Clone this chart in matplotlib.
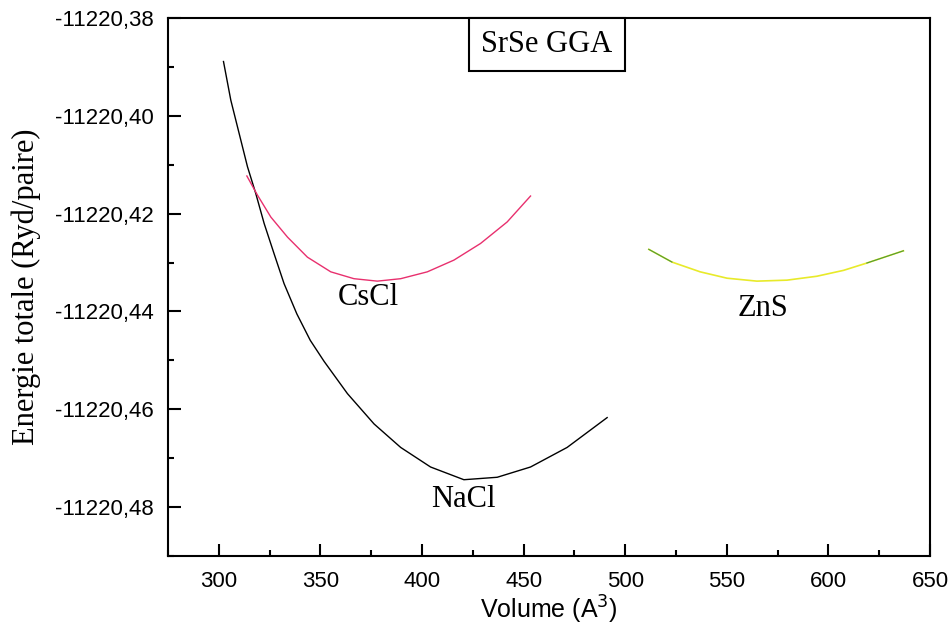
import numpy as np
import matplotlib
matplotlib.use("Agg")
import matplotlib.pyplot as plt
from matplotlib.ticker import MultipleLocator, FuncFormatter

# Valeurs (volume, energie - E0)
E0 = -11220.0

nacl_v = [302.3, 305.9, 310.0, 314.1, 318.2, 322.3, 327.2, 332.1, 338.4, 345.0,
          351.8, 363.3, 376.4, 389.5, 404.2, 420.6, 437.0, 453.4, 471.4, 491.1]
nacl_e = [-0.3889, -0.3968, -0.4036, -0.4104, -0.4159, -0.4220, -0.4282, -0.4343, -0.4405, -0.4459,
          -0.4502, -0.4568, -0.4630, -0.4678, -0.4718, -0.4744, -0.4739, -0.4718, -0.4678, -0.4617]

cscl_v = [313.8, 319.0, 325.6, 333.8, 343.6, 355.1, 366.5, 378.0, 389.5, 402.6,
          415.7, 428.8, 441.9, 453.4]
cscl_e = [-0.4123, -0.4162, -0.4207, -0.4248, -0.4289, -0.4319, -0.4333, -0.4338, -0.4333, -0.4319,
          -0.4295, -0.4261, -0.4217, -0.4164]

zns_v = [511.6, 523.0, 536.9, 550.1, 564.8, 579.6, 594.3, 607.4, 618.9, 636.9]
zns_e = [-0.4273, -0.4299, -0.4319, -0.4332, -0.4338, -0.4336, -0.4328, -0.4316, -0.4301, -0.4276]

nacl_e = [E0 + e for e in nacl_e]
cscl_e = [E0 + e for e in cscl_e]
zns_e = [E0 + e for e in zns_e]

serif = ["Liberation Serif", "DejaVu Serif"]
sans = ["Liberation Sans", "DejaVu Sans"]

fig = plt.figure(figsize=(9.53, 6.38), dpi=100)
ax = fig.add_axes([0.1763, 0.1285, 0.7996, 0.8433])

ax.plot(nacl_v, nacl_e, color="black", lw=1.0)
ax.plot(cscl_v, cscl_e, color="#e8306e", lw=1.0)
ax.plot(zns_v, zns_e, color="#e8ea2a", lw=1.2)
# bouts verts de la courbe ZnS
ax.plot(zns_v[:2], zns_e[:2], color="#4f9a3a", lw=0.8)
ax.plot(zns_v[-2:], zns_e[-2:], color="#4f9a3a", lw=0.8)

ax.text(373.7, E0 - 0.4371, "CsCl", family=serif, fontsize=22, ha="center", va="center")
ax.text(420.4, E0 - 0.4785, "NaCl", family=serif, fontsize=22, ha="center", va="center")
ax.text(568.0, E0 - 0.4394, "ZnS", family=serif, fontsize=22, ha="center", va="center")

ax.text(0.4975, 0.951, "SrSe GGA", transform=ax.transAxes, family=serif, fontsize=22,
        ha="center", va="center",
        bbox=dict(boxstyle="square,pad=0.4", facecolor="white", edgecolor="black", lw=1.5))

ax.set_xlim(275, 650)
ax.set_ylim(E0 - 0.49, E0 - 0.38)

ax.xaxis.set_major_locator(MultipleLocator(50))
ax.xaxis.set_minor_locator(MultipleLocator(25))
ax.yaxis.set_major_locator(MultipleLocator(0.02))
ax.yaxis.set_minor_locator(MultipleLocator(0.01))
ax.yaxis.set_major_formatter(FuncFormatter(lambda v, p: f"{v:.2f}".replace(".", ",")))

ax.tick_params(which="both", direction="in", top=False, right=False, width=1.5)
ax.tick_params(which="major", length=9)
ax.tick_params(which="minor", length=4.5)
ax.tick_params(axis="y", which="major", pad=10)
ax.tick_params(axis="x", which="major", pad=11)
for lab in ax.get_xticklabels() + ax.get_yticklabels():
    lab.set_family(sans)
    lab.set_fontsize(16)

for sp in ax.spines.values():
    sp.set_linewidth(1.5)

ax.set_xlabel("Volume (A$^3$)", family=sans, fontsize=18, labelpad=1)
ax.set_ylabel("Energie totale (Ryd/paire)", family=serif, fontsize=22, labelpad=10)

fig.savefig("out.png", dpi=100)
